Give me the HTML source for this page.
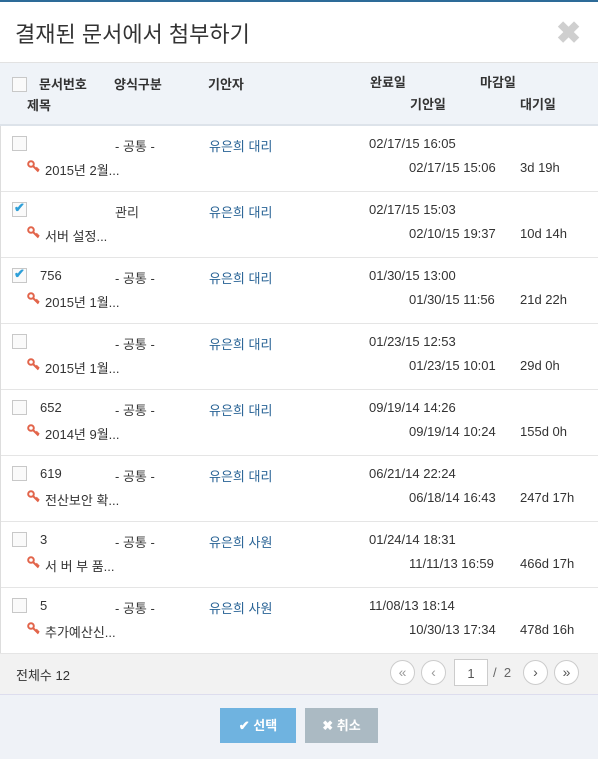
<!DOCTYPE html>
<html><head><meta charset="utf-8"><style>
*{box-sizing:border-box;margin:0;padding:0}
body{width:598px;height:759px;position:relative;background:#fff;font-family:"Liberation Sans","Noto Sans CJK KR",sans-serif;font-size:13px;color:#333;overflow:hidden}
.a{position:absolute;white-space:nowrap}
.cb{position:absolute;width:15px;height:15px;border:1px solid #c8c8c8;background:#fafafa}
.hd{font-weight:bold;color:#333}
.link{color:#2a6496}
.row{position:absolute;left:0;width:598px;height:66px;border-bottom:1px solid #e5e5e5}
.pg{position:absolute;top:660px;width:25px;height:25px;border:1px solid #ccc;border-radius:50%;background:#fff;color:#999;font-size:14px;text-align:center;line-height:22px}
</style></head><body>
<div class="a" style="left:0;top:0;width:598px;height:2px;background:#2d6b98"></div>
<div class="a" style="left:15px;top:17px;font-size:22px;color:#333">결재된 문서에서 첨부하기</div>
<div class="a" style="left:556px;top:14px;font-size:30px;color:#cfcfcf;font-weight:bold;line-height:40px">✖</div>
<div class="a" style="left:0;top:62px;width:598px;height:64px;background:#eff3f8;border-top:1px solid #e2e2e2;border-bottom:2px solid #dde3ea">
 <div class="cb" style="left:12px;top:14px"></div>
 <div class="a hd" style="left:39px;top:11px">문서번호</div>
 <div class="a hd" style="left:114px;top:11px">양식구분</div>
 <div class="a hd" style="left:208px;top:11px">기안자</div>
 <div class="a hd" style="left:370px;top:9px">완료일</div>
 <div class="a hd" style="left:480px;top:9px">마감일</div>
 <div class="a hd" style="left:27px;top:32px">제목</div>
 <div class="a hd" style="left:410px;top:31px">기안일</div>
 <div class="a hd" style="left:520px;top:31px">대기일</div>
</div>
<div id="rows"></div>
<div class="a" style="left:0;top:126px;width:1px;height:528px;background:#ddd"></div>
<div class="a" style="left:0;top:653px;width:598px;height:42px;background:#f2f2f2;border-top:1px solid #e5e5e5;border-bottom:1px solid #dde"></div>
<div class="a" style="left:16px;top:665px">전체수 12</div>
<div class="pg" style="left:390px">«</div>
<div class="pg" style="left:421px">‹</div>
<div class="a" style="left:454px;top:659px;width:34px;height:27px;border:1px solid #ccc;background:#fff;text-align:center;line-height:27px;color:#555">1</div>
<div class="a" style="left:493px;top:665px;color:#666">/&nbsp;&nbsp;2</div>
<div class="pg" style="left:523px;color:#555">›</div>
<div class="pg" style="left:554px;color:#555">»</div>
<div class="a" style="left:0;top:695px;width:598px;height:64px;background:#eff2f7"></div>
<div class="a" style="left:220px;top:708px;width:76px;height:35px;background:#6fb3e0;color:#fff;text-align:center;line-height:35px;font-weight:bold">✔ 선택</div>
<div class="a" style="left:305px;top:708px;width:73px;height:35px;background:#abbac3;color:#fff;text-align:center;line-height:35px;font-weight:bold">✖ 취소</div>
<script>
const docNums=["","","756","","652","619","3","5"];
const forms=["- 공통 -","관리","- 공통 -","- 공통 -","- 공통 -","- 공통 -","- 공통 -","- 공통 -"];
const drafters=["유은희 대리","유은희 대리","유은희 대리","유은희 대리","유은희 대리","유은희 대리","유은희 사원","유은희 사원"];
const completed=["02/17/15 16:05","02/17/15 15:03","01/30/15 13:00","01/23/15 12:53","09/19/14 14:26","06/21/14 22:24","01/24/14 18:31","11/08/13 18:14"];
const titles=["2015년 2월...","서버 설정...","2015년 1월...","2015년 1월...","2014년 9월...","전산보안 확...","서 버 부 품...","추가예산신..."];
const drafted=["02/17/15 15:06","02/10/15 19:37","01/30/15 11:56","01/23/15 10:01","09/19/14 10:24","06/18/14 16:43","11/11/13 16:59","10/30/13 17:34"];
const waits=["3d 19h","10d 14h","21d 22h","29d 0h","155d 0h","247d 17h","466d 17h","478d 16h"];
const checked=[false,true,true,false,false,false,false,false];
const c=document.getElementById('rows');
const key='<svg width="13" height="13" viewBox="0 0 13 13"><circle cx="4" cy="4" r="2.8" fill="none" stroke="#e2644a" stroke-width="2"/><path d="M6 6 L11.5 11.5 M9 9 L10.5 7.5 M10.5 10.5 L12 9" stroke="#e2644a" stroke-width="2"/></svg>';
for(let i=0;i<docNums.length;i++){
 const r=document.createElement('div');
 r.className='row';r.style.top=(126+i*66)+'px';
 
 
 r.innerHTML=
 '<div class="cb" style="left:12px;top:10px">'+(checked[i]?'<span style="position:absolute;left:1px;top:-3px;color:#2e9fd8;font-size:13px;font-weight:bold">✔</span>':'')+'</div>'+
 '<div class="a" style="left:40px;top:10px">'+docNums[i]+'</div>'+
 '<div class="a" style="left:115px;top:10px;color:#393939">'+forms[i]+'</div>'+
 '<div class="a link" style="left:209px;top:10px">'+drafters[i]+'</div>'+
 '<div class="a" style="left:369px;top:10px">'+completed[i]+'</div>'+
 '<div class="a" style="left:27px;top:34px">'+key+'</div>'+
 '<div class="a" style="left:45px;top:34px">'+titles[i]+'</div>'+
 '<div class="a" style="left:409px;top:34px">'+drafted[i]+'</div>'+
 '<div class="a" style="left:520px;top:34px">'+waits[i]+'</div>';
 c.appendChild(r);
}
</script>
</body></html>
